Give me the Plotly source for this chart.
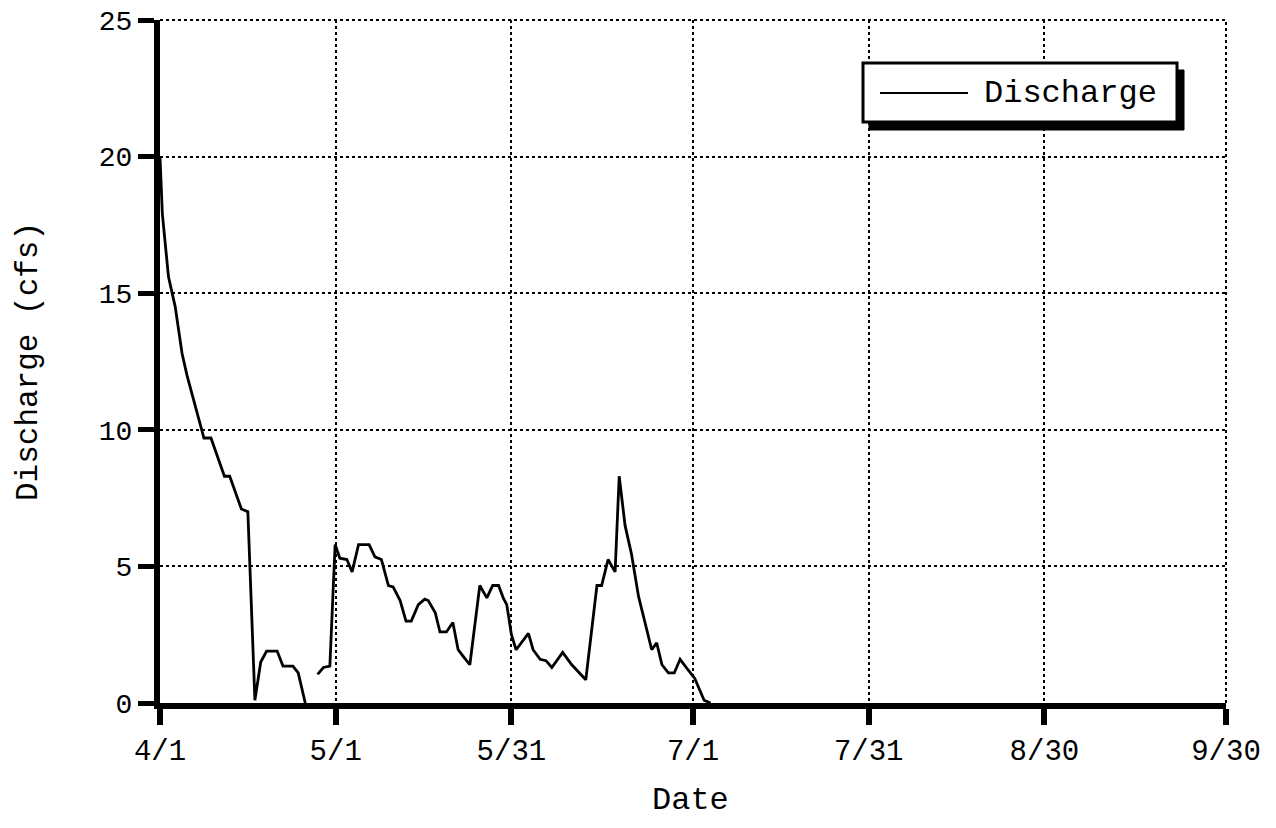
import plotly.graph_objects as go

# ---- data (days after 4/1, discharge in cfs); None marks a gap in the record ----
days = [0, 0.4, 1.45, 2.6, 3.76, 4.6, 7.5, 8.7, 11.0, 11.9, 13.9, 15.0, 16.2, 17.2, 18.2, 20.0,
        21.0, 22.7, 23.6, 24.8, 25.8,
        26.9, 27.9, 29.0, 29.9, 30.7, 31.9, 32.8, 33.9, 35.7, 36.7, 37.8, 39.0, 39.8, 41.0,
        42.0, 42.9, 44.1, 45.2, 45.8, 47.0, 47.8, 48.9, 50.0, 50.9, 51.8, 52.9, 54.6, 55.8,
        56.8, 57.8, 58.6, 59.2, 60.0, 60.8, 62.9, 63.7, 64.9, 65.9, 66.9, 68.75, 70.3, 72.7,
        74.6, 75.4, 76.5, 77.7, 78.4, 79.4, 80.5, 81.7, 83.95, 84.8, 85.7, 86.8, 87.8, 88.8,
        90.2, 91.3, 92.9, 94.0]
discharge = [20.0, 17.9, 15.6, 14.5, 12.8, 12.0, 9.7, 9.7, 8.3, 8.3, 7.1, 7.0, 0.1, 1.5, 1.9, 1.9,
             1.35, 1.35, 1.1, 0.0, None,
             1.05, 1.3, 1.35, 5.8, 5.3, 5.25, 4.8, 5.8, 5.8, 5.35, 5.25, 4.3, 4.25, 3.75,
             3.0, 3.0, 3.6, 3.8, 3.75, 3.3, 2.6, 2.6, 2.95, 1.95, 1.7, 1.4, 4.3, 3.85,
             4.3, 4.3, 3.85, 3.6, 2.5, 1.95, 2.55, 1.95, 1.6, 1.55, 1.3, 1.85, 1.4, 0.85,
             4.3, 4.3, 5.25, 4.8, 8.3, 6.5, 5.45, 3.9, 1.95, 2.2, 1.4, 1.1, 1.1, 1.6,
             1.2, 0.9, 0.1, 0.0]

tick_days = [0, 30, 60, 91, 121, 151, 182]
tick_labels = ["4/1", "5/1", "5/31", "7/1", "7/31", "8/30", "9/30"]
y_ticks = [0, 5, 10, 15, 20, 25]
series_name = "Discharge"

FONT = "Liberation Mono, Courier New, monospace"
OFF = 8                       # page body margin of the html file
W, H = 1276, 828              # window size
PL, PR, PT, PB = 160, 1226, 20, 703   # plot area edges in window pixels
PW, PH = PR - PL, PB - PT


def px(xp):
    return (xp - PL) / PW


def py(yp):
    return (PB - yp) / PH


fig = go.Figure()
fig.add_trace(go.Scatter(x=days, y=discharge, mode="lines", name=series_name,
                         line=dict(color="black", width=2.8), connectgaps=False,
                         showlegend=False))

fig.update_xaxes(range=[0, 182], tickmode="array", tickvals=tick_days, ticktext=tick_labels,
                 showline=True, linewidth=6, linecolor="black",
                 ticks="outside", ticklen=16, tickwidth=6, tickcolor="black",
                 showgrid=True, gridcolor="black", gridwidth=2, griddash="dot",
                 zeroline=False, ticklabeloverflow="allow", automargin=False,
                 tickfont=dict(family=FONT, size=29, color="black"))
fig.update_yaxes(range=[0, 25], tickmode="array", tickvals=y_ticks,
                 showline=True, linewidth=6, linecolor="black",
                 ticks="outside", ticklen=16, tickwidth=5, tickcolor="black",
                 showgrid=True, gridcolor="black", gridwidth=2, griddash="dot",
                 zeroline=False, ticklabeloverflow="allow", automargin=False,
                 tickfont=dict(family=FONT, size=28, color="black"))

shapes = [
    # dotted frame lines at the top (25 cfs) and right (9/30) edges
    dict(type="line", xref="paper", yref="paper", x0=0, x1=1, y0=1, y1=1,
         line=dict(color="black", width=2, dash="dot"), layer="below"),
    dict(type="line", xref="paper", yref="paper", x0=1, x1=1, y0=0, y1=1,
         line=dict(color="black", width=2, dash="dot"), layer="below"),
    # legend drop shadow
    dict(type="rect", xref="paper", yref="paper", x0=px(869), x1=px(1184), y0=py(130), y1=py(70),
         fillcolor="black", line=dict(color="black", width=1), layer="above"),
    # legend box
    dict(type="rect", xref="paper", yref="paper", x0=px(863), x1=px(1177), y0=py(122), y1=py(63),
         fillcolor="white", line=dict(color="black", width=3), layer="above"),
    # legend line sample
    dict(type="line", xref="paper", yref="paper", x0=px(880), x1=px(968), y0=py(93), y1=py(93),
         line=dict(color="black", width=2), layer="above"),
]

annotations = [
    dict(text=series_name, xref="paper", yref="paper", x=px(982), y=py(93), xanchor="left",
         yanchor="middle", showarrow=False, font=dict(family=FONT, size=32, color="black")),
    dict(text="Discharge (cfs)", xref="paper", yref="paper", x=px(28), y=py(362),
         xanchor="center", yanchor="middle", textangle=-90, showarrow=False,
         font=dict(family=FONT, size=31, color="black")),
    dict(text="Date", xref="paper", yref="paper", x=px(690), y=py(800),
         xanchor="center", yanchor="middle", showarrow=False,
         font=dict(family=FONT, size=32, color="black")),
]

fig.update_layout(width=W - OFF, height=H - OFF,
                  margin=dict(l=PL - OFF, r=W - PR, t=PT - OFF, b=H - PB, autoexpand=False),
                  paper_bgcolor="white", plot_bgcolor="white",
                  shapes=shapes, annotations=annotations, showlegend=False)

fig.write_html("out.html")
